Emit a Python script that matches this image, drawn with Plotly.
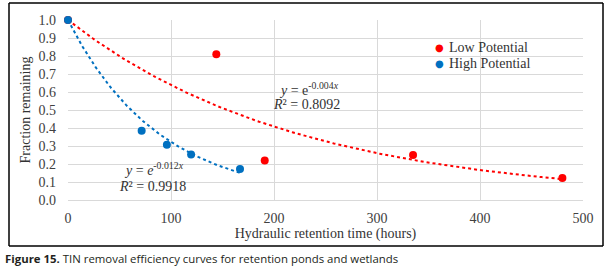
import numpy as np
import plotly.graph_objects as go

# ---- data ----
low_x = [0, 144, 191, 335, 480]
low_y = [1.0, 0.81, 0.22, 0.25, 0.122]
high_x = [0, 71.5, 96, 119.5, 167]
high_y = [1.0, 0.385, 0.307, 0.253, 0.172]
x_ticks = [0, 100, 200, 300, 400, 500]
y_ticks = [round(0.1 * i, 1) for i in range(11)]
series_names = ["Low Potential", "High Potential"]

low_eq = "<i>y</i> = e<sup>-0.004<i>x</i></sup>"
low_r2 = "<i>R</i>² = 0.8092"
high_eq = "<i>y</i> = <i>e</i><sup>-0.012<i>x</i></sup>"
high_r2 = "<i>R</i>² = 0.9918"
caption = "<b>Figure 15.</b> TIN removal efficiency curves for retention ponds and wetlands"


def exp_fit(xs, ys):
    xs = np.asarray(xs, float)
    ly = np.log(np.asarray(ys, float))
    b = (xs * ly).sum() / (xs * xs).sum()
    xx = np.linspace(0, xs.max(), 120)
    return xx, np.exp(b * xx)


RED = "#FF0000"
BLUE = "#0070C0"
SERIF = "Liberation Serif, Times New Roman, serif"

fig = go.Figure()
lx, ly = exp_fit(low_x, low_y)
hx, hy = exp_fit(high_x, high_y)
fig.add_trace(go.Scatter(x=lx, y=ly, mode="lines", line=dict(color=RED, width=2, dash="dot"),
                         showlegend=False, hoverinfo="skip", cliponaxis=False))
fig.add_trace(go.Scatter(x=hx, y=hy, mode="lines", line=dict(color=BLUE, width=2, dash="dot"),
                         showlegend=False, hoverinfo="skip", cliponaxis=False))
fig.add_trace(go.Scatter(x=low_x, y=low_y, mode="markers", name=series_names[0], showlegend=False,
                         marker=dict(color=RED, size=8), cliponaxis=False))
fig.add_trace(go.Scatter(x=high_x, y=high_y, mode="markers", name=series_names[1], showlegend=False,
                         marker=dict(color=BLUE, size=8), cliponaxis=False))

L, R, T, B = 68, 29, 20, 67
W, H = 612, 267
pw, ph = W - L - R, H - T - B


def px_x(p):
    return (p - L) / pw


def px_y(p):
    return (H - B - p) / ph


frame = dict(color="black", width=1.5)
fig.update_layout(
    width=W, height=H,
    margin=dict(l=L, r=R, t=T, b=B, autoexpand=False),
    paper_bgcolor="white", plot_bgcolor="white",
    font=dict(family=SERIF, size=14, color="#404040"),
    xaxis=dict(range=[0, 500], tickvals=x_ticks, showgrid=True, gridcolor="#D9D9D9",
               zeroline=False, showline=True, linecolor="#D9D9D9", ticks="",
               ticklabelstandoff=5, automargin=False,
               title=dict(text="Hydraulic retention time (hours)", font=dict(color="#333333", size=14), standoff=1)),
    yaxis=dict(range=[0, 1.0], tickvals=y_ticks, tickformat=".1f", showgrid=True, gridcolor="#D9D9D9",
               zeroline=False, showline=False, ticks="", ticklabelstandoff=11, automargin=False,
               title=dict(text="Fraction remaining", font=dict(color="#333333", size=14), standoff=4)),
    shapes=[
        dict(type="line", xref="paper", yref="paper", x0=px_x(9), x1=px_x(603), y0=px_y(3), y1=px_y(3), line=frame),
        dict(type="line", xref="paper", yref="paper", x0=px_x(9), x1=px_x(603), y0=px_y(246), y1=px_y(246), line=frame),
        dict(type="line", xref="paper", yref="paper", x0=px_x(9), x1=px_x(9), y0=px_y(3), y1=px_y(246), line=frame),
        dict(type="line", xref="paper", yref="paper", x0=px_x(603), x1=px_x(603), y0=px_y(3), y1=px_y(246), line=frame),
    ],
)

# legend (drawn as text so the entries sit as closely as in the original)
for name, col, yp in [(series_names[0], RED, 47), (series_names[1], BLUE, 63)]:
    fig.add_annotation(text="●", xref="paper", yref="paper", x=px_x(439), y=px_y(yp),
                       xanchor="center", yanchor="middle", showarrow=False,
                       font=dict(family="DejaVu Sans", size=10, color=col))
    fig.add_annotation(text=name, xref="paper", yref="paper", x=px_x(447), y=px_y(yp),
                       xanchor="left", yanchor="middle", showarrow=False,
                       font=dict(family=SERIF, size=14, color="#333333"))

ann = [
    (low_eq, 277, 89, 14),
    (low_r2, 271, 104, 14),
    (high_eq, 122, 169, 14),
    (high_r2, 117, 186, 14),
]
for txt, xp, yp, sz in ann:
    fig.add_annotation(text=txt, xref="paper", yref="paper", x=px_x(xp), y=px_y(yp),
                       xanchor="left", yanchor="middle", showarrow=False,
                       font=dict(family=SERIF, size=sz, color="#333333"))

fig.add_annotation(text=caption, xref="paper", yref="paper", x=px_x(3), y=px_y(258),
                   xanchor="left", yanchor="middle", showarrow=False,
                   font=dict(family="Open Sans, sans-serif", size=11.4, color="#231F20"))

fig.write_html("out.html", config={"displayModeBar": False},
               post_script="document.body.style.margin='0';document.body.style.overflow='hidden';")
